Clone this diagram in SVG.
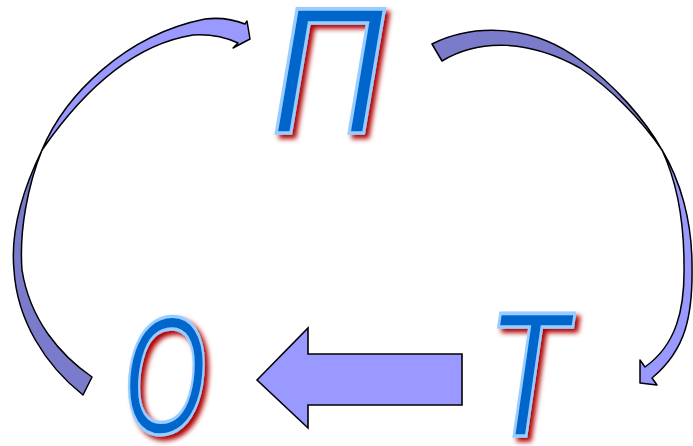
<svg xmlns="http://www.w3.org/2000/svg" width="693" height="446" viewBox="0 0 693 446">
<defs>
<style>
.band{stroke:#000;stroke-width:1.5;stroke-linejoin:round}
.front{fill:#9999FF}
.back{fill:#7B7BCC}
.block{fill:#9999FF;stroke:#000;stroke-width:1.6;stroke-linejoin:miter}
.letter{font-family:"Liberation Sans",Arial,sans-serif;font-style:italic;font-size:173px;fill:#0066CC;stroke:#99CCFF;stroke-width:3.5;stroke-linejoin:miter;text-anchor:middle}
</style>
<filter id="glow" filterUnits="userSpaceOnUse" x="0" y="0" width="693" height="446">
<feGaussianBlur in="SourceAlpha" stdDeviation="2.8" result="b"/>
<feOffset in="b" dx="3.5" dy="3.5" result="o"/>
<feFlood flood-color="#B00000" flood-opacity="1"/>
<feComposite in2="o" operator="in" result="s"/>
<feMerge><feMergeNode in="s"/><feMergeNode in="SourceGraphic"/></feMerge>
</filter>
</defs>
<rect width="693" height="446" fill="#fff"/>
<g id="connectors">
<g id="arrow-O-P">
<path class="band back" d="M42,150 C25,185 10,230 14,270 C17,320 45,365 83,395 L92,377 C60,355 30,320 22,270 C19,230 28,185 42,150 Z"/>
<path class="band front" d="M42,150 C65,95 125,35 205,19 C222,17 235,20 245,24 L247,21 L250,39 L233,48 L238,43 C225,37 210,34 193,35 C130,45 80,95 42,150 Z"/>
</g>
<g id="arrow-P-T">
<path class="band back" d="M432,44 C470,25 530,22 580,60 C615,85 645,120 662,150 C640,118 610,88 580,68 C530,40 480,38 442,61 Z"/>
<path class="band front" d="M662,150 C680,180 692,220 692,265 C693,315 686,350 652,378 L657,385 L640,383 L640,360 L645,367 C676,345 685,310 684,265 C684,220 676,180 662,150 Z"/>
</g>
<g id="arrow-T-O">
<polygon class="block" points="257,380 308,328 308,354 462,354 462,405 308,405 308,428"/>
</g>
</g>
<g id="node-P" filter="url(#glow)">
<text class="letter" transform="translate(328,133) scale(0.9,1.045)" x="0" y="0">П</text>
</g>
<g id="node-O" filter="url(#glow)">
<text class="letter" transform="translate(165,433) scale(0.62,0.96)" x="0" y="0">О</text>
</g>
<g id="node-T" filter="url(#glow)">
<text class="letter" transform="translate(527,436) scale(0.76,1.03)" x="0" y="0">Т</text>
</g>
</svg>
